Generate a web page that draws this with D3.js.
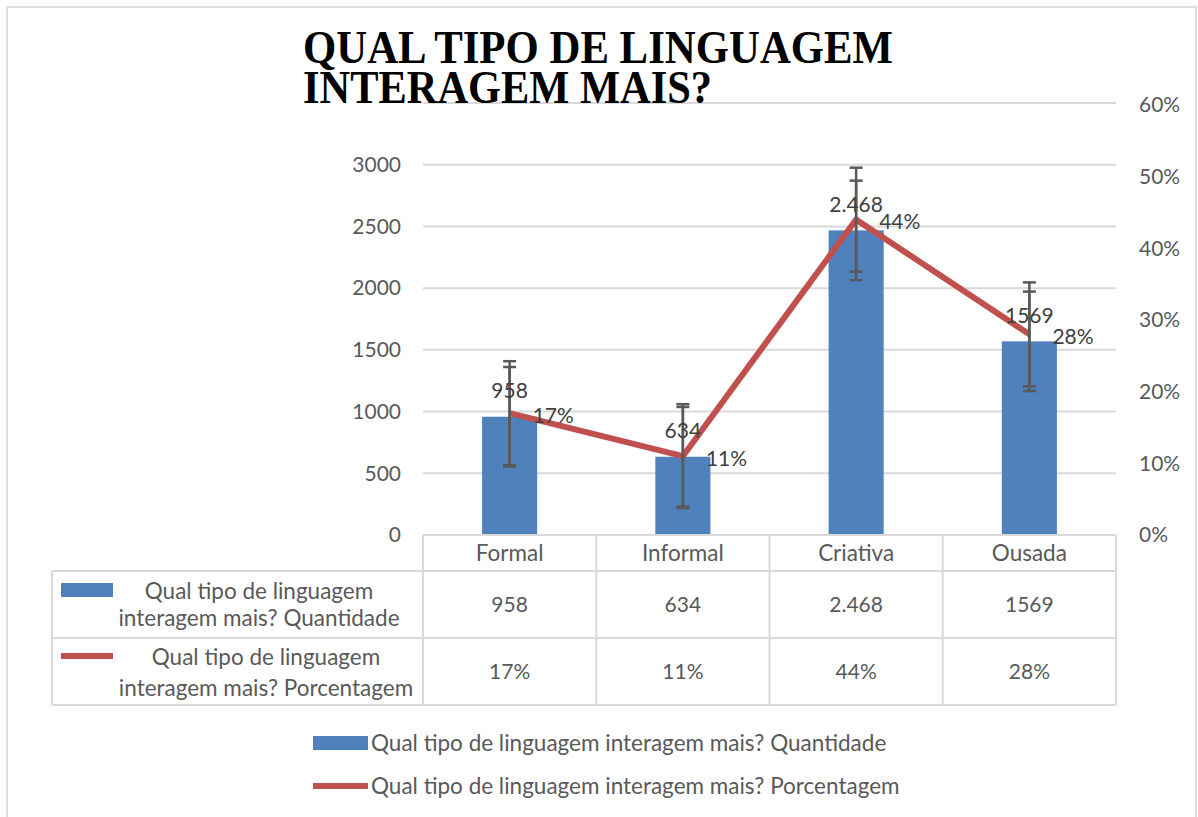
<!DOCTYPE html>
<html><head><meta charset="utf-8">
<script src="https://cdn.jsdelivr.net/npm/d3@7"></script>
<style>
html,body{margin:0;padding:0;background:#fff;}
svg{display:block;}
</style></head>
<body>
<svg id="chart" width="1198" height="817"></svg>
<script>
const categories = ["Formal", "Informal", "Criativa", "Ousada"];
const quantidade = [958, 634, 2468, 1569];
const quantidadeLabels = ["958", "634", "2.468", "1569"];
const porcentagem = [0.17, 0.11, 0.44, 0.28];
const porcentagemLabels = ["17%", "11%", "44%", "28%"];
const quantidadeErro = [403, 403, 403, 403];
const porcentagemErro = [0.0725, 0.0725, 0.0725, 0.0725];
const leftTicks = [0, 500, 1000, 1500, 2000, 2500, 3000];
const gridTicks = [500, 1000, 1500, 2000, 2500, 3000, 3500];
const rightTicks = [0, 0.1, 0.2, 0.3, 0.4, 0.5, 0.6];
const titleLines = ["QUAL TIPO DE LINGUAGEM", "INTERAGEM MAIS?"];
const seriesNames = ["Qual tipo de linguagem interagem mais? Quantidade", "Qual tipo de linguagem interagem mais? Porcentagem"];
const tableLegendLines = [["Qual tipo de linguagem", "interagem mais? Quantidade"], ["Qual tipo de linguagem", "interagem mais? Porcentagem"]];

const BLUE = "#4f81bd", RED = "#c0504d", GRID = "#d9d9d9", AXT = "#595959", LBL = "#404040", ERR = "#595959";
const FONT = "Lato, 'Open Sans', sans-serif";
const FS_TXT = 22.5, FS_NUM = 21;

const svg = d3.select("#chart");
svg.append("rect").attr("x", 0).attr("y", 0).attr("width", 1198).attr("height", 817).attr("fill", "#fff");
// outer border
svg.append("path").attr("d", "M7,830 V7 H1196 V830").attr("fill", "none").attr("stroke", "#dedede").attr("stroke-width", 2);

const plotL = 423, plotR = 1116, plotB = 535;
const x = d3.scaleBand().domain(categories).range([plotL, plotR]);
const yL = d3.scaleLinear().domain([0, 3500]).range([plotB, 103]);
const yR = d3.scaleLinear().domain([0, 0.6]).range([plotB, 105]);

// gridlines
svg.append("g").selectAll("line").data(gridTicks).join("line")
  .attr("x1", plotL).attr("x2", plotR)
  .attr("y1", d => yL(d)).attr("y2", d => yL(d))
  .attr("stroke", GRID).attr("stroke-width", 2);

// left axis
const gL = svg.append("g").attr("transform", `translate(${plotL},0)`)
  .call(d3.axisLeft(yL).tickValues(leftTicks).tickSize(0).tickPadding(22).tickFormat(d3.format("d")));
gL.select(".domain").remove();
gL.selectAll("text").attr("font-family", FONT).attr("font-size", FS_NUM).attr("fill", AXT);

// right axis
const gR = svg.append("g").attr("transform", `translate(${plotR},0)`)
  .call(d3.axisRight(yR).tickValues(rightTicks).tickSize(0).tickPadding(23).tickFormat(d3.format(".0%")));
gR.select(".domain").remove();
gR.selectAll("text").attr("font-family", FONT).attr("font-size", FS_NUM).attr("fill", AXT);

// bars
const bw = x.bandwidth() * 0.318;
const cx = d => x(d) + x.bandwidth() / 2;
svg.append("g").selectAll("rect").data(categories).join("rect")
  .attr("x", d => cx(d) - bw / 2)
  .attr("width", bw)
  .attr("y", (d, i) => yL(quantidade[i]))
  .attr("height", (d, i) => plotB - yL(quantidade[i]))
  .attr("fill", BLUE);

// line
const line = d3.line().x((d, i) => cx(categories[i])).y(d => yR(d));
svg.append("path").datum(porcentagem).attr("d", line)
  .attr("fill", "none").attr("stroke", RED).attr("stroke-width", 6).attr("stroke-linejoin", "miter");

// error bars
function errorBars(vals, errs, scale) {
  const g = svg.append("g").attr("stroke", ERR).attr("stroke-width", 2.5);
  categories.forEach((c, i) => {
    const X = cx(c), top = scale(vals[i] + errs[i]), bot = scale(vals[i] - errs[i]);
    g.append("line").attr("x1", X).attr("x2", X).attr("y1", top).attr("y2", bot);
    g.append("line").attr("x1", X - 6.5).attr("x2", X + 6.5).attr("y1", top).attr("y2", top);
    g.append("line").attr("x1", X - 6.5).attr("x2", X + 6.5).attr("y1", bot).attr("y2", bot);
  });
}
errorBars(quantidade, quantidadeErro, yL);
errorBars(porcentagem, porcentagemErro, yR);

// data labels
svg.append("g").selectAll("text").data(categories).join("text")
  .attr("x", d => cx(d)).attr("y", (d, i) => yL(quantidade[i]) - 26)
  .attr("dy", "0.35em").attr("text-anchor", "middle")
  .attr("font-family", FONT).attr("font-size", FS_NUM).attr("fill", LBL)
  .text((d, i) => quantidadeLabels[i]);
svg.append("g").selectAll("text").data(categories).join("text")
  .attr("x", d => cx(d) + 23).attr("y", (d, i) => yR(porcentagem[i]) + 2)
  .attr("dy", "0.35em").attr("text-anchor", "start")
  .attr("font-family", FONT).attr("font-size", FS_NUM).attr("fill", LBL)
  .text((d, i) => porcentagemLabels[i]);

// data table
const rowTop = [535, 571, 638, 705];
const tg = svg.append("g").attr("stroke", GRID).attr("stroke-width", 2).attr("fill", "none");
tg.append("line").attr("x1", plotL).attr("x2", plotR).attr("y1", rowTop[0]).attr("y2", rowTop[0]);
[rowTop[1], rowTop[2], rowTop[3]].forEach(y => tg.append("line").attr("x1", 52).attr("x2", plotR).attr("y1", y).attr("y2", y));
tg.append("line").attr("x1", 52).attr("x2", 52).attr("y1", rowTop[1]).attr("y2", rowTop[3]);
const colEdges = categories.map(c => x(c)).concat([plotR]);
colEdges.forEach(xx => tg.append("line").attr("x1", xx).attr("x2", xx).attr("y1", rowTop[0]).attr("y2", rowTop[3]));

const tt = svg.append("g").attr("font-family", FONT).attr("font-size", FS_TXT).attr("fill", AXT).attr("text-anchor", "middle");
categories.forEach((c, i) => {
  tt.append("text").attr("x", cx(c)).attr("y", 553).attr("dy", "0.35em").text(c);
  tt.append("text").attr("x", cx(c)).attr("y", 605).attr("dy", "0.35em").attr("font-size", FS_NUM).text(quantidadeLabels[i]);
  tt.append("text").attr("x", cx(c)).attr("y", 672).attr("dy", "0.35em").attr("font-size", FS_NUM).text(porcentagemLabels[i]);
});
// table legend keys
svg.append("rect").attr("x", 61).attr("y", 583).attr("width", 52).attr("height", 14).attr("fill", BLUE);
svg.append("line").attr("x1", 61).attr("x2", 113).attr("y1", 656).attr("y2", 656).attr("stroke", RED).attr("stroke-width", 6);
const legY = [[591, 618], [657, 688]];
const legX = [259, 266];
tableLegendLines.forEach((lines, r) => {
  lines.forEach((t, k) => {
    tt.append("text").attr("x", legX[r]).attr("y", legY[r][k]).attr("dy", "0.35em").text(t);
  });
});

// bottom legend
const lg = svg.append("g").attr("font-family", FONT).attr("font-size", FS_TXT).attr("fill", AXT);
lg.append("rect").attr("x", 313).attr("y", 736).attr("width", 55).attr("height", 14).attr("fill", BLUE);
lg.append("text").attr("x", 371).attr("y", 743).attr("dy", "0.35em").text(seriesNames[0]);
lg.append("line").attr("x1", 313).attr("x2", 368).attr("y1", 786).attr("y2", 786).attr("stroke", RED).attr("stroke-width", 6);
lg.append("text").attr("x", 371).attr("y", 786).attr("dy", "0.35em").text(seriesNames[1]);

// title
const titleWidths = [590, 409];
const titleY = [63, 103];
titleLines.forEach((t, i) => {
  svg.append("text").attr("x", 303).attr("y", titleY[i])
    .attr("font-family", "'Liberation Serif', 'Times New Roman', serif")
    .attr("font-weight", "bold").attr("font-size", 47).attr("fill", "#000")
    .attr("textLength", titleWidths[i]).attr("lengthAdjust", "spacingAndGlyphs")
    .text(t);
});
</script>
</body></html>
